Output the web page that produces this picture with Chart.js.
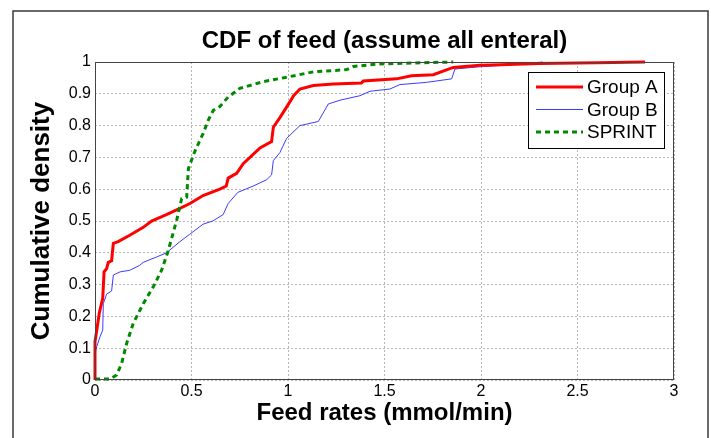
<!DOCTYPE html>
<html>
<head>
<meta charset="utf-8">
<title>CDF of feed</title>
<script src="https://cdn.jsdelivr.net/npm/chart.js@4.4.1/dist/chart.umd.min.js"></script>
<style>
    html, body { margin: 0; padding: 0; background: #fff; }
    #wrap { width: 711px; height: 438px; }
</style>
</head>
<body>
<div id="wrap"><canvas id="cdfChart" width="711" height="438"></canvas></div>
<script>
// Values (feed rate, cumulative density)
const groupAX = [0, 0, 0.012, 0.022, 0.04, 0.047, 0.06, 0.069, 0.086, 0.095, 0.12, 0.18, 0.25, 0.293, 0.37, 0.44, 0.492, 0.56, 0.647, 0.68, 0.69, 0.734, 0.768, 0.855, 0.915, 0.924, 0.958, 1.0, 1.03, 1.062, 1.131, 1.235, 1.38, 1.39, 1.563, 1.64, 1.753, 1.856, 1.994, 2.1, 2.3, 2.6, 2.85];
const groupAY = [0, 0.12, 0.168, 0.21, 0.257, 0.34, 0.35, 0.37, 0.375, 0.43, 0.435, 0.455, 0.48, 0.5, 0.52, 0.54, 0.555, 0.58, 0.6, 0.61, 0.635, 0.65, 0.68, 0.73, 0.75, 0.795, 0.825, 0.865, 0.895, 0.915, 0.926, 0.931, 0.934, 0.94, 0.947, 0.957, 0.96, 0.983, 0.99, 0.991, 0.995, 0.998, 1.0];

const groupBX = [0, 0, 0.009, 0.026, 0.04, 0.043, 0.06, 0.086, 0.095, 0.13, 0.18, 0.23, 0.25, 0.32, 0.37, 0.44, 0.49, 0.56, 0.61, 0.664, 0.69, 0.74, 0.82, 0.89, 0.915, 0.924, 0.958, 0.993, 1.062, 1.157, 1.209, 1.27, 1.373, 1.425, 1.528, 1.58, 1.718, 1.848, 1.865, 1.994, 2.1, 2.32];
const groupBY = [0, 0.084, 0.105, 0.136, 0.157, 0.24, 0.27, 0.28, 0.33, 0.34, 0.345, 0.36, 0.37, 0.387, 0.4, 0.435, 0.458, 0.49, 0.5, 0.52, 0.555, 0.59, 0.61, 0.63, 0.645, 0.69, 0.715, 0.76, 0.8, 0.813, 0.868, 0.88, 0.894, 0.908, 0.915, 0.929, 0.936, 0.947, 0.978, 0.985, 0.989, 1.0];

const sprintX = [0, 0.078, 0.112, 0.138, 0.164, 0.198, 0.25, 0.302, 0.345, 0.38, 0.423, 0.449, 0.475, 0.484, 0.518, 0.56, 0.587, 0.613, 0.647, 0.69, 0.75, 0.87, 1.0, 1.131, 1.304, 1.339, 1.477, 1.65, 1.856];
const sprintY = [0.003, 0.003, 0.016, 0.052, 0.115, 0.178, 0.24, 0.293, 0.345, 0.408, 0.502, 0.57, 0.575, 0.665, 0.72, 0.775, 0.817, 0.848, 0.86, 0.89, 0.917, 0.938, 0.953, 0.969, 0.976, 0.986, 0.994, 0.997, 1.0];

const seriesLabels = ['Group A', 'Group B', 'SPRINT'];
const xTicks = [0, 0.5, 1, 1.5, 2, 2.5, 3];
const yTicks = [0, 0.1, 0.2, 0.3, 0.4, 0.5, 0.6, 0.7, 0.8, 0.9, 1];
const chartTitle = 'CDF of feed (assume all enteral)';

const FONT = '"Liberation Sans", Arial, Helvetica, sans-serif';

function toPoints(xs, ys) {
    return xs.map((x, i) => ({ x: x, y: ys[i] }));
}

// outer figure frame, title over the plot, plot box and legend box
const framePlugin = {
    id: 'frame',
    beforeDraw(chart) {
        const ctx = chart.ctx;
        const a = chart.chartArea;
        ctx.save();
        ctx.fillStyle = '#fff';
        ctx.fillRect(0, 0, chart.width, chart.height);
        ctx.strokeStyle = '#3a3a3a';
        ctx.lineWidth = 1.5;
        ctx.beginPath();
        ctx.moveTo(13, chart.height + 2);
        ctx.lineTo(13, 11);
        ctx.lineTo(708, 11);
        ctx.lineTo(708, chart.height + 2);
        ctx.stroke();

        ctx.fillStyle = '#000';
        ctx.font = 'bold 24px ' + FONT;
        ctx.textAlign = 'center';
        ctx.textBaseline = 'alphabetic';
        ctx.fillText(chartTitle, (a.left + a.right) / 2, 48);
        ctx.restore();
    },
    afterDraw(chart) {
        const ctx = chart.ctx;
        const a = chart.chartArea;
        ctx.save();
        ctx.strokeStyle = '#444';
        ctx.lineWidth = 1;
        ctx.strokeRect(a.left + 0.5, a.top + 0.5, a.right - a.left - 1, a.bottom - a.top - 1);

        // legend
        const box = { x: 528.5, y: 72.5, w: 136, h: 76 };
        ctx.fillStyle = '#fff';
        ctx.fillRect(box.x, box.y, box.w, box.h);
        ctx.strokeStyle = '#000';
        ctx.lineWidth = 1;
        ctx.strokeRect(box.x, box.y, box.w, box.h);
        ctx.font = '19px ' + FONT;
        ctx.fillStyle = '#000';
        ctx.textBaseline = 'middle';
        chart.data.datasets.forEach((ds, i) => {
            const y = 87 + i * 22.5;
            ctx.beginPath();
            ctx.strokeStyle = ds.borderColor;
            ctx.lineWidth = ds.borderWidth;
            ctx.setLineDash(ds.borderDash || []);
            ctx.moveTo(536, y);
            ctx.lineTo(583, y);
            ctx.stroke();
            ctx.setLineDash([]);
            ctx.fillText(ds.label, 587, y + 1);
        });
        ctx.restore();
    }
};

new Chart(document.getElementById('cdfChart'), {
    type: 'line',
    data: {
        datasets: [{
            label: seriesLabels[0],
            data: toPoints(groupAX, groupAY),
            borderColor: '#ff0000',
            borderWidth: 3,
            order: 1
        }, {
            label: seriesLabels[1],
            data: toPoints(groupBX, groupBY),
            borderColor: '#3c3cff',
            borderWidth: 1,
            order: 2
        }, {
            label: seriesLabels[2],
            data: toPoints(sprintX, sprintY),
            borderColor: '#008a00',
            borderWidth: 3,
            borderDash: [5, 4],
            order: 0
        }]
    },
    options: {
        responsive: false,
        animation: false,
        clip: 4,
        elements: {
            point: { radius: 0 },
            line: { tension: 0, fill: false }
        },
        layout: { padding: { left: 0, right: 37, top: 62, bottom: 0 } },
        plugins: {
            legend: { display: false },
            tooltip: { enabled: false },
            title: { display: false }
        },
        scales: {
            x: {
                type: 'linear',
                min: 0,
                max: 3,
                afterFit(scale) { scale.height = 58; },
                afterBuildTicks(scale) { scale.ticks = xTicks.map(v => ({ value: v })); },
                grid: { color: '#b5b5b5', lineWidth: 1, drawTicks: false },
                border: { display: false, dash: [2, 2] },
                ticks: {
                    color: '#000',
                    padding: 2,
                    maxRotation: 0,
                    font: { family: FONT, size: 16 },
                    callback: v => String(v)
                },
                title: {
                    display: true,
                    text: 'Feed rates (mmol/min)',
                    color: '#000',
                    font: { family: FONT, size: 24, weight: 'bold', lineHeight: 1.2 },
                    padding: { top: 0, bottom: 10.6 }
                }
            },
            y: {
                type: 'linear',
                min: 0,
                max: 1,
                afterFit(scale) { scale.width = 95; },
                afterBuildTicks(scale) { scale.ticks = yTicks.map(v => ({ value: v })); },
                grid: { color: '#b5b5b5', lineWidth: 1, drawTicks: false },
                border: { display: false, dash: [2, 2] },
                ticks: {
                    color: '#000',
                    padding: 4,
                    font: { family: FONT, size: 16 },
                    callback: v => String(v)
                },
                title: {
                    display: true,
                    text: 'Cumulative density',
                    color: '#000',
                    font: { family: FONT, size: 26, weight: 'bold', lineHeight: 1.2 },
                    padding: { top: 26, bottom: 0 }
                }
            }
        }
    },
    plugins: [framePlugin]
});
</script>
</body>
</html>
